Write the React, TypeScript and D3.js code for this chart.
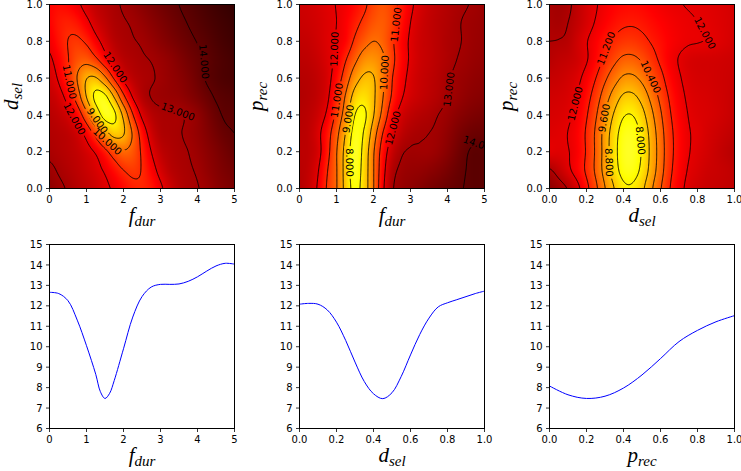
import React, { useMemo } from 'react';
import * as d3 from 'd3';

// ---------------- data ----------------
const F_DUR_AXIS = [0, 0.25, 0.5, 0.75, 1, 1.25, 1.5, 1.75, 2, 2.25, 2.5, 2.75, 3, 3.25, 3.5, 3.75, 4, 4.25, 4.5, 4.75, 5];
const ROWS_01 = [0, 0.1, 0.2, 0.3, 0.4, 0.5, 0.6, 0.7, 0.8, 0.9, 1.0];
const D_SEL_AXIS = [0, 0.05, 0.1, 0.15, 0.2, 0.25, 0.3, 0.35, 0.4, 0.45, 0.5, 0.55, 0.6, 0.65, 0.7, 0.75, 0.8, 0.85, 0.9, 0.95, 1.0];

// objective over (f_dur, d_sel); rows d_sel = 0..1, columns f_dur = 0..5
const HEAT_FDUR_DSEL = [
  [13.3, 13.1, 12.95, 12.75, 12.59, 12.4, 12.15, 11.88, 11.54, 11.21, 11.11, 11.35, 11.87, 12.39, 12.74, 12.9, 12.98, 13.12, 13.35, 13.5, 13.6],
  [13.1, 12.95, 12.8, 12.64, 12.45, 12.23, 11.9, 11.45, 11.0, 10.8, 11.05, 11.65, 12.26, 12.67, 12.85, 12.95, 13.05, 13.25, 13.45, 13.62, 13.72],
  [12.9, 12.8, 12.69, 12.54, 12.28, 11.9, 11.25, 10.5, 10.1, 10.37, 11.14, 12.0, 12.58, 12.8, 12.92, 13.0, 13.15, 13.35, 13.55, 13.75, 13.9],
  [12.8, 12.73, 12.62, 12.33, 11.7, 10.64, 9.4, 8.63, 8.93, 10.11, 11.44, 12.36, 12.8, 12.9, 12.97, 13.08, 13.25, 13.48, 13.72, 13.92, 14.0],
  [12.7, 12.56, 12.27, 11.59, 10.32, 8.73, 7.63, 7.84, 9.24, 10.94, 12.16, 12.7, 12.9, 12.95, 12.97, 13.08, 13.3, 13.6, 13.88, 14.05, 14.05],
  [12.53, 12.28, 11.67, 10.52, 8.97, 7.8, 7.84, 9.1, 10.79, 12.07, 12.75, 13.02, 13.12, 13.18, 13.25, 13.42, 13.62, 13.85, 14.05, 14.15, 14.2],
  [12.32, 11.9, 11.1, 9.97, 9.04, 8.93, 9.81, 11.11, 12.19, 12.65, 12.85, 12.95, 13.08, 13.22, 13.37, 13.56, 13.8, 14.05, 14.2, 14.3, 14.35],
  [12.1, 11.67, 11.04, 10.46, 10.33, 10.8, 11.6, 12.3, 12.7, 12.85, 12.95, 13.02, 13.15, 13.3, 13.5, 13.7, 13.88, 14.05, 14.2, 14.32, 14.4],
  [11.84, 11.4, 10.99, 10.86, 11.14, 11.74, 12.3, 12.7, 12.88, 12.97, 13.05, 13.2, 13.38, 13.55, 13.72, 13.88, 14.02, 14.15, 14.3, 14.42, 14.5],
  [11.64, 11.33, 11.2, 11.37, 11.8, 12.3, 12.6, 12.85, 12.96, 13.05, 13.2, 13.38, 13.55, 13.72, 13.88, 14.02, 14.15, 14.28, 14.4, 14.5, 14.58],
  [11.61, 11.5, 11.59, 11.87, 12.24, 12.56, 12.75, 12.92, 13.05, 13.2, 13.38, 13.55, 13.72, 13.87, 14.0, 14.12, 14.25, 14.38, 14.5, 14.6, 14.68],
];

// objective over (f_dur, p_rec); rows p_rec = 0..1, columns f_dur = 0..5
const HEAT_FDUR_PREC = [
  [12.75, 12.5, 11.9, 10.9, 10.05, 8.65, 7.72, 8.5, 9.95, 11.8, 12.9, 13.2, 13.32, 13.45, 13.6, 13.72, 13.85, 13.95, 14.02, 14.1, 14.05],
  [12.7, 12.55, 12.05, 11.05, 10.05, 8.6, 7.55, 8.45, 9.95, 11.65, 12.75, 13.1, 13.2, 13.25, 13.35, 13.48, 13.65, 13.85, 14.0, 14.1, 14.05],
  [12.66, 12.6, 12.25, 11.3, 10.05, 8.65, 7.47, 8.35, 9.9, 11.45, 12.45, 12.92, 13.05, 13.05, 13.07, 13.2, 13.42, 13.7, 13.95, 14.08, 14.04],
  [12.7, 12.6, 12.2, 11.4, 10.3, 8.95, 7.65, 8.1, 9.5, 11.0, 12.05, 12.6, 12.85, 12.95, 13.0, 13.1, 13.3, 13.55, 13.75, 13.85, 13.85],
  [12.75, 12.65, 12.4, 11.85, 10.75, 9.5, 8.0, 7.85, 8.95, 10.3, 11.6, 12.3, 12.6, 12.75, 12.85, 13.0, 13.15, 13.35, 13.5, 13.6, 13.65],
  [12.8, 12.72, 12.55, 12.15, 11.1, 9.9, 8.62, 8.3, 8.85, 9.95, 11.1, 11.9, 12.3, 12.5, 12.65, 12.8, 13.0, 13.15, 13.3, 13.4, 13.45],
  [12.75, 12.7, 12.55, 12.25, 11.55, 10.5, 9.42, 8.85, 8.95, 9.85, 10.95, 11.7, 12.2, 12.45, 12.6, 12.75, 12.95, 13.1, 13.2, 13.3, 13.35],
  [12.65, 12.6, 12.45, 12.2, 11.85, 11.05, 10.2, 9.55, 9.45, 9.85, 10.75, 11.55, 12.1, 12.4, 12.55, 12.7, 12.85, 13.0, 13.1, 13.2, 13.25],
  [12.55, 12.5, 12.35, 12.15, 11.95, 11.6, 10.85, 10.3, 10.0, 10.2, 10.85, 11.6, 12.1, 12.4, 12.55, 12.7, 12.85, 12.95, 13.05, 13.15, 13.2],
  [12.45, 12.4, 12.3, 12.15, 12.0, 11.7, 11.25, 10.8, 10.4, 10.3, 10.7, 11.4, 12.0, 12.35, 12.55, 12.7, 12.82, 12.95, 13.05, 13.12, 13.18],
  [12.4, 12.35, 12.25, 12.12, 11.98, 11.8, 11.52, 11.15, 10.65, 10.42, 10.7, 11.25, 11.85, 12.25, 12.5, 12.65, 12.78, 12.9, 12.98, 13.05, 13.15],
];

// objective over (d_sel, p_rec); rows p_rec = 0..1, columns d_sel = 0..1
const HEAT_DSEL_PREC = [
  [13.3, 13.05, 12.75, 12.2, 11.41, 10.57, 9.62, 8.79, 8.16, 8.12, 8.62, 9.46, 10.33, 11.17, 11.75, 12.16, 12.34, 12.45, 12.5, 12.55, 12.6],
  [12.85, 12.55, 12.15, 11.68, 11.07, 10.26, 9.28, 8.38, 7.71, 7.67, 8.21, 9.12, 10.07, 11.01, 11.62, 12.04, 12.23, 12.38, 12.45, 12.52, 12.6],
  [12.08, 12.12, 12.03, 11.72, 11.12, 10.28, 9.25, 8.28, 7.58, 7.52, 8.08, 9.02, 10.0, 10.92, 11.55, 11.95, 12.15, 12.3, 12.45, 12.6, 12.72],
  [12.15, 12.1, 11.99, 11.69, 11.1, 10.28, 9.27, 8.36, 7.67, 7.63, 8.18, 9.1, 10.07, 10.96, 11.55, 11.95, 12.08, 12.25, 12.38, 12.5, 12.6],
  [12.25, 12.21, 12.1, 11.82, 11.27, 10.5, 9.56, 8.71, 8.07, 8.02, 8.54, 9.39, 10.29, 11.11, 11.65, 12.01, 12.15, 12.22, 12.3, 12.4, 12.5],
  [12.35, 12.31, 12.22, 11.98, 11.49, 10.82, 10.0, 9.25, 8.69, 8.66, 9.1, 9.84, 10.61, 11.3, 11.78, 12.09, 12.2, 12.25, 12.32, 12.4, 12.5],
  [12.5, 12.45, 12.34, 12.15, 11.75, 11.21, 10.54, 9.94, 9.48, 9.45, 9.8, 10.39, 10.97, 11.55, 11.93, 12.17, 12.27, 12.3, 12.35, 12.4, 12.45],
  [12.7, 12.6, 12.52, 12.36, 12.05, 11.59, 11.05, 10.58, 10.24, 10.22, 10.48, 10.89, 11.33, 11.75, 12.03, 12.21, 12.28, 12.3, 12.32, 12.36, 12.4],
  [12.8, 12.78, 12.7, 12.38, 12.04, 11.71, 11.35, 11.07, 10.88, 10.86, 11.01, 11.25, 11.47, 11.7, 11.85, 11.95, 11.98, 12.02, 12.1, 12.2, 12.3],
  [12.9, 12.95, 12.8, 12.55, 12.25, 11.95, 11.68, 11.45, 11.3, 11.27, 11.35, 11.5, 11.65, 11.78, 11.88, 11.95, 12.0, 12.05, 12.12, 12.2, 12.28],
  [12.95, 13.02, 12.9, 12.6, 12.3, 12.05, 11.82, 11.65, 11.55, 11.52, 11.58, 11.7, 11.82, 11.92, 11.98, 12.02, 12.05, 12.1, 12.15, 12.22, 12.3],
];

const LEVELS_FDUR_DSEL = [8, 9, 10, 11, 12, 13, 14];
const LEVELS_FDUR_PREC = [8, 9, 10, 11, 12, 13, 14];
const LEVELS_DSEL_PREC = [8, 8.8, 9.6, 10.4, 11.2, 12, 12.8];

// contour label anchors (data coordinates)
const LABELS_FDUR_DSEL = [
  { level: 9, x: 1.37, y: 0.38 }, { level: 10, x: 1.66, y: 0.28 }, { level: 11, x: 0.58, y: 0.58 },
  { level: 12, x: 0.69, y: 0.38 }, { level: 12, x: 1.77, y: 0.66 }, { level: 13, x: 3.5, y: 0.43 }, { level: 14, x: 4.27, y: 0.69 },
];
const LABELS_FDUR_PREC = [
  { level: 12, x: 0.95, y: 0.76 }, { level: 11, x: 1.01, y: 0.48 }, { level: 9, x: 1.26, y: 0.38 },
  { level: 8, x: 1.22, y: 0.14 }, { level: 11, x: 2.61, y: 0.89 }, { level: 10, x: 2.34, y: 0.63 },
  { level: 12, x: 2.5, y: 0.33 }, { level: 13, x: 3.96, y: 0.54 }, { level: 14, x: 4.93, y: 0.26 },
];
const LABELS_DSEL_PREC = [
  { level: 11.2, x: 0.28, y: 0.77 }, { level: 10.4, x: 0.55, y: 0.61 }, { level: 12, x: 0.135, y: 0.46 },
  { level: 9.6, x: 0.26, y: 0.39 }, { level: 8, x: 0.5, y: 0.26 }, { level: 8.8, x: 0.34, y: 0.14 }, { level: 12, x: 0.83, y: 0.84 },
];

// 1-D slices
const SLICE_FDUR_X = [0, 0.25, 0.5, 0.75, 1, 1.25, 1.375, 1.5, 1.625, 1.75, 2, 2.25, 2.5, 2.75, 3, 3.25, 3.5, 3.75, 4, 4.25, 4.5, 4.75, 5];
const SLICE_FDUR_Y = [12.66, 12.6, 12.25, 11.3, 10.05, 8.65, 7.8, 7.47, 7.72, 8.35, 9.9, 11.45, 12.45, 12.92, 13.05, 13.05, 13.07, 13.2, 13.42, 13.7, 13.95, 14.08, 14.04];
const SLICE_DSEL_X = D_SEL_AXIS;
const SLICE_DSEL_Y = [12.08, 12.12, 12.08, 11.8, 11.2, 10.3, 9.25, 8.3, 7.7, 7.46, 7.75, 8.55, 9.6, 10.6, 11.4, 11.95, 12.15, 12.3, 12.45, 12.6, 12.72];
const SLICE_PREC_X = ROWS_01;
const SLICE_PREC_Y = [8.08, 7.65, 7.47, 7.58, 7.98, 8.62, 9.42, 10.25, 10.8, 11.22, 11.52];

const TICKS_F = [0, 1, 2, 3, 4, 5];
const TICKS_01 = [0, 0.2, 0.4, 0.6, 0.8, 1.0];
const TICKS_Y_LINE = [6, 7, 8, 9, 10, 11, 12, 13, 14, 15];

// ---------------- layout ----------------
const W = 741, H = 471;
const COL_LEFT = [49.5, 299.5, 549.5];
const PW = 185, PH = 184;
const ROW_TOP = [4.5, 244.5];
const TICK_FONT = 'DejaVu Sans, sans-serif';
const MATH_FONT = 'Liberation Serif, DejaVu Serif, serif';

// hot colormap (reversed so low = bright)
const hotT = d3.scaleLinear().domain([15.3, 5.3]).range([0, 1]).clamp(true);
const hotR = d3.scaleLinear().domain([0, 0.365079]).range([0.0416, 1]).clamp(true);
const hotG = d3.scaleLinear().domain([0.365079, 0.746032]).range([0, 1]).clamp(true);
const hotB = d3.scaleLinear().domain([0.746032, 1]).range([0, 1]).clamp(true);
function hot(v: number): [number, number, number] {
  const t = hotT(v);
  return [Math.round(hotR(t) * 255), Math.round(hotG(t) * 255), Math.round(hotB(t) * 255)];
}

function catmull(p0: number, p1: number, p2: number, p3: number, t: number) {
  return p1 + 0.5 * t * (p2 - p0 + t * (2 * p0 - 5 * p1 + 4 * p2 - p3 + t * (3 * (p1 - p2) + p3 - p0)));
}

function makeSampler(xs: number[], ys: number[], grid: number[][]) {
  const nx = xs.length, ny = ys.length;
  const ix = d3.scaleLinear().domain([xs[0], xs[nx - 1]]).range([0, nx - 1]);
  const iy = d3.scaleLinear().domain([ys[0], ys[ny - 1]]).range([0, ny - 1]);
  const g = (j: number, i: number) => grid[Math.max(0, Math.min(ny - 1, j))][Math.max(0, Math.min(nx - 1, i))];
  return (x: number, y: number) => {
    const u = ix(x), v = iy(y);
    const i = Math.max(0, Math.min(nx - 2, Math.floor(u)));
    const j = Math.max(0, Math.min(ny - 2, Math.floor(v)));
    const tu = u - i, tv = v - j;
    const r = [-1, 0, 1, 2].map((dj) => catmull(g(j + dj, i - 1), g(j + dj, i), g(j + dj, i + 1), g(j + dj, i + 2), tu));
    return catmull(r[0], r[1], r[2], r[3], tv);
  };
}

type HeatSpec = {
  xs: number[]; ys: number[]; grid: number[][]; levels: number[];
  labels: { level: number; x: number; y: number }[];
  xDomain: [number, number]; yDomain: [number, number];
  xTicks: number[]; yTicks: number[]; xFmt: (v: number) => string; yFmt: (v: number) => string;
  xLabel: [string, string]; yLabel: [string, string];
};

const fmtInt = d3.format('d');
const fmt1 = d3.format('.1f');
const fmt3 = d3.format('.3f');

const HEAT_SPECS: HeatSpec[] = [
  { xs: F_DUR_AXIS, ys: ROWS_01, grid: HEAT_FDUR_DSEL, levels: LEVELS_FDUR_DSEL, labels: LABELS_FDUR_DSEL,
    xDomain: [0, 5], yDomain: [0, 1], xTicks: TICKS_F, yTicks: TICKS_01, xFmt: fmtInt, yFmt: fmt1,
    xLabel: ['f', 'dur'], yLabel: ['d', 'sel'] },
  { xs: F_DUR_AXIS, ys: ROWS_01, grid: HEAT_FDUR_PREC, levels: LEVELS_FDUR_PREC, labels: LABELS_FDUR_PREC,
    xDomain: [0, 5], yDomain: [0, 1], xTicks: TICKS_F, yTicks: TICKS_01, xFmt: fmtInt, yFmt: fmt1,
    xLabel: ['f', 'dur'], yLabel: ['p', 'rec'] },
  { xs: D_SEL_AXIS, ys: ROWS_01, grid: HEAT_DSEL_PREC, levels: LEVELS_DSEL_PREC, labels: LABELS_DSEL_PREC,
    xDomain: [0, 1], yDomain: [0, 1], xTicks: TICKS_01, yTicks: TICKS_01, xFmt: fmt1, yFmt: fmt1,
    xLabel: ['d', 'sel'], yLabel: ['p', 'rec'] },
];

type LineSpec = { xs: number[]; ys: number[]; xDomain: [number, number]; xTicks: number[]; xFmt: (v: number) => string; xLabel: [string, string] };
const LINE_SPECS: LineSpec[] = [
  { xs: SLICE_FDUR_X, ys: SLICE_FDUR_Y, xDomain: [0, 5], xTicks: TICKS_F, xFmt: fmtInt, xLabel: ['f', 'dur'] },
  { xs: SLICE_DSEL_X, ys: SLICE_DSEL_Y, xDomain: [0, 1], xTicks: TICKS_01, xFmt: fmt1, xLabel: ['d', 'sel'] },
  { xs: SLICE_PREC_X, ys: SLICE_PREC_Y, xDomain: [0, 1], xTicks: TICKS_01, xFmt: fmt1, xLabel: ['p', 'rec'] },
];

function labelWidth(s: string) {
  let w = 0;
  for (const ch of s) w += ch === '.' ? 3.18 : 6.36;
  return w;
}

function Axes({ x, y, xTicks, yTicks, xFmt, yFmt, left, top, xLabel, yLabel, yLabelX }: any) {
  const bottom = top + PH;
  return (
    <g>
      <rect x={left} y={top} width={PW} height={PH} fill="none" stroke="#000" strokeWidth={1} />
      {xTicks.map((t: number) => (
        <g key={'x' + t}>
          <line x1={x(t)} x2={x(t)} y1={bottom} y2={bottom + 3.5} stroke="#000" strokeWidth={0.8} />
          <text x={x(t)} y={bottom + 14.6} textAnchor="middle" fontFamily={TICK_FONT} fontSize={10} fill="#000">{xFmt(t)}</text>
        </g>
      ))}
      {yTicks.map((t: number) => (
        <g key={'y' + t}>
          <line x1={left - 3.5} x2={left} y1={y(t)} y2={y(t)} stroke="#000" strokeWidth={0.8} />
          <text x={left - 7} y={y(t) + 3.6} textAnchor="end" fontFamily={TICK_FONT} fontSize={10} fill="#000">{yFmt(t)}</text>
        </g>
      ))}
      <text x={left + PW / 2} y={bottom + 33} textAnchor="middle" fontFamily={MATH_FONT} fontStyle="italic" fontSize={21} fill="#000">
        {xLabel[0]}<tspan fontSize={15} dy={4}>{xLabel[1]}</tspan>
      </text>
      {yLabel && (
        <text transform={`translate(${yLabelX},${top + PH / 2}) rotate(-90)`} textAnchor="middle" fontFamily={MATH_FONT} fontStyle="italic" fontSize={21} fill="#000">
          {yLabel[0]}<tspan fontSize={15} dy={4}>{yLabel[1]}</tspan>
        </text>
      )}
    </g>
  );
}

function HeatPanel({ spec, idx }: { spec: HeatSpec; idx: number }) {
  const left = COL_LEFT[idx], top = ROW_TOP[0];
  const x = d3.scaleLinear().domain(spec.xDomain).range([left, left + PW]);
  const y = d3.scaleLinear().domain(spec.yDomain).range([top + PH, top]);

  const { href, paths, labels } = useMemo(() => {
    const sampler = makeSampler(spec.xs, spec.ys, spec.grid);
    const cw = PW, ch = PH;
    const canvas = document.createElement('canvas');
    canvas.width = cw; canvas.height = ch;
    const ctx = canvas.getContext('2d')!;
    const img = ctx.createImageData(cw, ch);
    for (let py = 0; py < ch; py++) {
      for (let px = 0; px < cw; px++) {
        const v = sampler(x.invert(left + px + 0.5), y.invert(top + py + 0.5));
        const c = hot(v);
        const k = (py * cw + px) * 4;
        img.data[k] = c[0]; img.data[k + 1] = c[1]; img.data[k + 2] = c[2]; img.data[k + 3] = 255;
      }
    }
    ctx.putImageData(img, 0, 0);
    const href = canvas.toDataURL();

    const NX = 240, NY = 220;
    const gxData = d3.scaleLinear().domain([0, NX - 1]).range(spec.xDomain);
    const gyData = d3.scaleLinear().domain([0, NY - 1]).range([spec.yDomain[1], spec.yDomain[0]]);
    const values = new Array(NX * NY);
    for (let j = 0; j < NY; j++) for (let i = 0; i < NX; i++) values[j * NX + i] = sampler(gxData(i), gyData(j));
    const contours = d3.contours().size([NX, NY]).thresholds(spec.levels)(values);
    const gx = (cx: number) => x(gxData(cx - 0.5));
    const gy = (cy: number) => y(gyData(cy - 0.5));
    const path = d3.geoPath(d3.geoTransform({ point(this: any, px: number, py: number) { this.stream.point(gx(px), gy(py)); } }));
    const paths = contours.map((c) => ({ level: c.value, d: path(c as any) || '' }));

    const labels = spec.labels.map((l) => {
      const tx = x(l.x), ty = y(l.y);
      const c = contours.find((cc) => Math.abs(cc.value - l.level) < 1e-6);
      let best = { d: Infinity, px: tx, py: ty, ang: 0 };
      if (c) {
        for (const poly of c.coordinates) {
          for (const ring of poly) {
            const pts = ring.map(([a, b]) => [gx(a), gy(b)]);
            const n = pts.length - 1;
            for (let k = 0; k < n; k++) {
              const [px, py] = pts[k];
              if (px < left + 2 || px > left + PW - 2 || py < top + 2 || py > top + PH - 2) continue;
              const dd = (px - tx) ** 2 + (py - ty) ** 2;
              if (dd < best.d) {
                const a = pts[(k - 5 + n) % n], b = pts[(k + 5) % n];
                let ang = (Math.atan2(b[1] - a[1], b[0] - a[0]) * 180) / Math.PI;
                if (ang > 90) ang -= 180;
                if (ang < -90) ang += 180;
                best = { d: dd, px, py, ang };
              }
            }
          }
        }
      }
      const text = fmt3(l.level);
      return { text, x: best.px, y: best.py, ang: best.ang, w: labelWidth(text) };
    });
    return { href, paths, labels };
  }, [spec, idx]);

  const clipId = `clip-h${idx}`, maskId = `mask-h${idx}`;
  return (
    <g>
      <defs>
        <clipPath id={clipId}><rect x={left} y={top} width={PW} height={PH} /></clipPath>
        <mask id={maskId} maskUnits="userSpaceOnUse" x={0} y={0} width={W} height={H}>
          <rect x={0} y={0} width={W} height={H} fill="#fff" />
          {labels.map((l, i) => (
            <rect key={i} x={-l.w / 2 - 2} y={-5.5} width={l.w + 4} height={11} fill="#000"
              transform={`translate(${l.x},${l.y}) rotate(${l.ang})`} />
          ))}
        </mask>
      </defs>
      <g clipPath={`url(#${clipId})`}>
        <image href={href} x={left} y={top} width={PW} height={PH} preserveAspectRatio="none" />
        <g mask={`url(#${maskId})`}>
          {paths.map((p, i) => <path key={i} d={p.d} fill="none" stroke="#000" strokeWidth={0.9} />)}
        </g>
        {labels.map((l, i) => (
          <text key={i} transform={`translate(${l.x},${l.y}) rotate(${l.ang})`} textAnchor="middle" dy="0.36em"
            fontFamily={TICK_FONT} fontSize={10} fill="#000">{l.text}</text>
        ))}
      </g>
      <Axes x={x} y={y} xTicks={spec.xTicks} yTicks={spec.yTicks} xFmt={spec.xFmt} yFmt={spec.yFmt}
        left={left} top={top} xLabel={spec.xLabel} yLabel={spec.yLabel} yLabelX={left - (spec.yLabel[0] === 'd' ? 32 : 36.5)} />
    </g>
  );
}

function LinePanel({ spec, idx }: { spec: LineSpec; idx: number }) {
  const left = COL_LEFT[idx], top = ROW_TOP[1];
  const x = d3.scaleLinear().domain(spec.xDomain).range([left, left + PW]);
  const y = d3.scaleLinear().domain([6, 15]).range([top + PH, top]);
  const pts = spec.xs.map((v, i) => [v, spec.ys[i]] as [number, number]);
  const line = d3.line<[number, number]>().x((d) => x(d[0])).y((d) => y(d[1])).curve(d3.curveCatmullRom.alpha(0.5));
  return (
    <g>
      <path d={line(pts) || ''} fill="none" stroke="#0000ff" strokeWidth={1} />
      <Axes x={x} y={y} xTicks={spec.xTicks} yTicks={TICKS_Y_LINE} xFmt={spec.xFmt} yFmt={fmtInt}
        left={left} top={top} xLabel={spec.xLabel} yLabel={null} yLabelX={0} />
    </g>
  );
}

export default function App() {
  return (
    <div style={{ position: 'absolute', left: 0, top: 0, width: W, height: H, background: '#fff' }}>
      <svg width={W} height={H} viewBox={`0 0 ${W} ${H}`} style={{ display: 'block' }}>
        <rect x={0} y={0} width={W} height={H} fill="#fff" />
        {HEAT_SPECS.map((s, i) => <HeatPanel key={'h' + i} spec={s} idx={i} />)}
        {LINE_SPECS.map((s, i) => <LinePanel key={'l' + i} spec={s} idx={i} />)}
      </svg>
    </div>
  );
}
